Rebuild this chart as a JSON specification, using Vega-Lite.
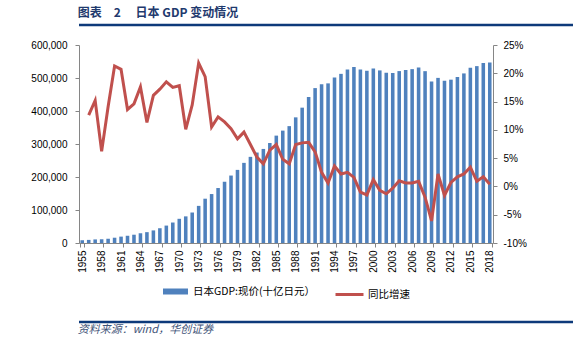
{
  "$schema": "https://vega.github.io/schema/vega-lite/v6.json",
  "background": "white",
  "padding": {"left": 15, "top": 6, "right": 5, "bottom": 0},
  "config": {"view": {"stroke": null}, "font": "Liberation Sans", "legend": {"layout": {"bottom": {"anchor": "middle", "direction": "horizontal", "margin": 6}}}},
  "columns": 1,
  "align": "none",
  "spacing": 13,
  "resolve": {"scale": {"fill": "independent", "stroke": "independent"}, "legend": {"fill": "independent", "stroke": "independent"}},
  "concat": [
    {
      "width": 520,
      "height": 1,
      "data": {"values": [{"k": 0}]},
      "title": {"text": "图表\u30002\u3000 日本 GDP 变动情况", "anchor": "start", "font": "Noto Sans CJK SC", "fontSize": 12, "fontWeight": "bold", "color": "#1F3A6E", "offset": 4},
      "mark": {"type": "rule", "color": "#0D3A7A", "strokeWidth": 2.5},
      "encoding": {"y": {"datum": 0, "type": "quantitative", "axis": null, "scale": {"domain": [0, 1]}}}
    },
    {
      "width": 414,
      "height": 198,
      "data": {"values": [
        {"year": 1955, "gdp": 8370, "growth": null},
        {"year": 1956, "gdp": 9422, "growth": 12.6},
        {"year": 1957, "gdp": 10858, "growth": 15.2},
        {"year": 1958, "gdp": 11539, "growth": 6.2},
        {"year": 1959, "gdp": 13190, "growth": 14.1},
        {"year": 1960, "gdp": 16010, "growth": 21.3},
        {"year": 1961, "gdp": 19337, "growth": 20.7},
        {"year": 1962, "gdp": 21943, "growth": 13.6},
        {"year": 1963, "gdp": 25114, "growth": 14.6},
        {"year": 1964, "gdp": 29541, "growth": 17.6},
        {"year": 1965, "gdp": 32866, "growth": 11.3},
        {"year": 1966, "gdp": 38171, "growth": 16.1},
        {"year": 1967, "gdp": 44731, "growth": 17.2},
        {"year": 1968, "gdp": 52776, "growth": 18.5},
        {"year": 1969, "gdp": 62066, "growth": 17.5},
        {"year": 1970, "gdp": 73345, "growth": 17.8},
        {"year": 1971, "gdp": 80701, "growth": 10.1},
        {"year": 1972, "gdp": 92394, "growth": 14.4},
        {"year": 1973, "gdp": 112498, "growth": 21.8},
        {"year": 1974, "gdp": 134244, "growth": 19.4},
        {"year": 1975, "gdp": 148327, "growth": 10.5},
        {"year": 1976, "gdp": 166573, "growth": 12.3},
        {"year": 1977, "gdp": 185622, "growth": 11.4},
        {"year": 1978, "gdp": 204404, "growth": 10.2},
        {"year": 1979, "gdp": 221547, "growth": 8.4},
        {"year": 1980, "gdp": 242839, "growth": 9.6},
        {"year": 1981, "gdp": 261068, "growth": 7.4},
        {"year": 1982, "gdp": 274087, "growth": 5.2},
        {"year": 1983, "gdp": 285058, "growth": 4.0},
        {"year": 1984, "gdp": 302975, "growth": 6.4},
        {"year": 1985, "gdp": 325402, "growth": 7.4},
        {"year": 1986, "gdp": 340560, "growth": 4.8},
        {"year": 1987, "gdp": 354170, "growth": 4.0},
        {"year": 1988, "gdp": 380743, "growth": 7.4},
        {"year": 1989, "gdp": 410122, "growth": 7.7},
        {"year": 1990, "gdp": 442781, "growth": 7.8},
        {"year": 1991, "gdp": 469422, "growth": 6.1},
        {"year": 1992, "gdp": 480783, "growth": 2.5},
        {"year": 1993, "gdp": 483712, "growth": 0.6},
        {"year": 1994, "gdp": 501538, "growth": 3.6},
        {"year": 1995, "gdp": 512542, "growth": 2.2},
        {"year": 1996, "gdp": 525807, "growth": 2.5},
        {"year": 1997, "gdp": 533393, "growth": 1.6},
        {"year": 1998, "gdp": 526004, "growth": -1.0},
        {"year": 1999, "gdp": 521924, "growth": -1.5},
        {"year": 2000, "gdp": 528447, "growth": 1.2},
        {"year": 2001, "gdp": 523005, "growth": -0.7},
        {"year": 2002, "gdp": 515986, "growth": -1.3},
        {"year": 2003, "gdp": 515401, "growth": -0.3},
        {"year": 2004, "gdp": 520965, "growth": 1.0},
        {"year": 2005, "gdp": 524133, "growth": 0.6},
        {"year": 2006, "gdp": 526880, "growth": 0.6},
        {"year": 2007, "gdp": 531688, "growth": 0.9},
        {"year": 2008, "gdp": 520716, "growth": -1.9},
        {"year": 2009, "gdp": 489501, "growth": -6.1},
        {"year": 2010, "gdp": 500354, "growth": 2.2},
        {"year": 2011, "gdp": 491409, "growth": -1.6},
        {"year": 2012, "gdp": 494957, "growth": 0.7},
        {"year": 2013, "gdp": 503176, "growth": 1.7},
        {"year": 2014, "gdp": 513876, "growth": 2.2},
        {"year": 2015, "gdp": 531320, "growth": 3.4},
        {"year": 2016, "gdp": 535986, "growth": 0.9},
        {"year": 2017, "gdp": 545122, "growth": 1.7},
        {"year": 2018, "gdp": 547126, "growth": 0.4}
      ]},
      "encoding": {
        "x": {
          "field": "year",
          "type": "ordinal",
          "scale": {"paddingInner": 0.45, "paddingOuter": 0.225},
          "axis": {
            "title": null,
            "values": [1955,1958,1961,1964,1967,1970,1973,1976,1979,1982,1985,1988,1991,1994,1997,2000,2003,2006,2009,2012,2015,2018],
            "labelAngle": 270,
            "tickBand": "extent",
            "tickSize": 4,
            "labelPadding": 3,
            "labelFontSize": 10,
            "labelColor": "#000000",
            "domainColor": "#868686",
            "tickColor": "#868686"
          }
        }
      },
      "layer": [
        {
          "mark": {"type": "bar"},
          "encoding": {
            "y": {
              "field": "gdp",
              "type": "quantitative",
              "scale": {"domain": [0, 600000], "nice": false},
              "axis": {
                "title": " ",
                "titlePadding": 5,
                "titleFontSize": 10,
                "values": [0,100000,200000,300000,400000,500000,600000],
                "format": ",.0f",
                "grid": false,
                "tickSize": 4,
                "labelPadding": 8,
                "labelFontSize": 10,
                "labelColor": "#000000",
                "domainColor": "#868686",
                "tickColor": "#868686"
              }
            },
            "fill": {
              "datum": "日本GDP:现价(十亿日元）",
              "type": "nominal",
              "scale": {"range": ["#4F81BD"]},
              "legend": {
                "title": null,
                "orient": "bottom",
                "direction": "horizontal",
                "offset": 0,
                "padding": 6,
                "labelFont": "Noto Sans CJK SC",
                "labelFontSize": 10.5,
                "labelColor": "#000000",
                "labelOffset": 5,
                "symbolSize": 625,
                "symbolType": "M-1,-0.24H1V0.24H-1Z",
                "symbolStrokeWidth": 0
              }
            }
          }
        },
        {
          "transform": [{"filter": "datum.growth != null"}],
          "mark": {"type": "line", "strokeWidth": 3},
          "encoding": {
            "y": {
              "field": "growth",
              "type": "quantitative",
              "scale": {"domain": [-10, 25], "nice": false},
              "axis": {
                "orient": "right",
                "title": null,
                "values": [-10,-5,0,5,10,15,20,25],
                "labelExpr": "datum.value + '%'",
                "grid": false,
                "tickSize": 4,
                "labelPadding": 6,
                "labelFontSize": 10,
                "labelColor": "#000000",
                "domainColor": "#868686",
                "tickColor": "#868686"
              }
            },
            "stroke": {
              "datum": "同比增速",
              "type": "nominal",
              "scale": {"range": ["#C0504D"]},
              "legend": {
                "title": null,
                "orient": "bottom",
                "direction": "horizontal",
                "offset": 0,
                "padding": 6,
                "labelFont": "Noto Sans CJK SC",
                "labelFontSize": 10.5,
                "labelColor": "#000000",
                "labelOffset": 3,
                "symbolSize": 784,
                "symbolType": "stroke",
                "symbolStrokeWidth": 3
              }
            }
          }
        }
      ],
      "resolve": {"scale": {"y": "independent"}}
    },
    {
      "width": 520,
      "height": 1,
      "data": {"values": [{"k": 0}]},
      "title": {"text": "资料来源：wind，华创证券", "orient": "bottom", "anchor": "start", "font": "Noto Sans CJK SC", "fontSize": 11, "fontStyle": "italic", "fontWeight": "normal", "color": "#3F5478", "offset": 1},
      "mark": {"type": "rule", "color": "#0D3A7A", "strokeWidth": 2.5},
      "encoding": {"y": {"datum": 0, "type": "quantitative", "axis": null, "scale": {"domain": [0, 1]}}}
    }
  ]
}
